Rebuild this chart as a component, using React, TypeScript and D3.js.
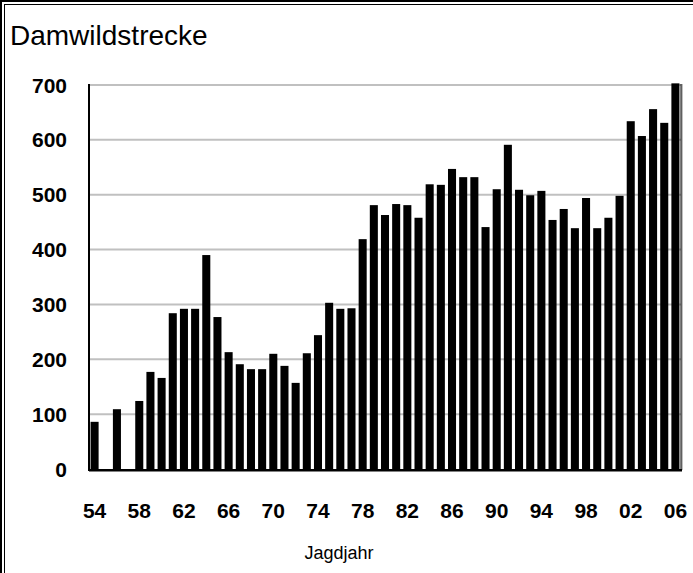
import React from 'react';
import * as d3 from 'd3';

const YEARS = [
  1954, 1955, 1956, 1957, 1958, 1959, 1960, 1961, 1962, 1963,
  1964, 1965, 1966, 1967, 1968, 1969, 1970, 1971, 1972, 1973,
  1974, 1975, 1976, 1977, 1978, 1979, 1980, 1981, 1982, 1983,
  1984, 1985, 1986, 1987, 1988, 1989, 1990, 1991, 1992, 1993,
  1994, 1995, 1996, 1997, 1998, 1999, 2000, 2001, 2002, 2003,
  2004, 2005, 2006,
];

const STRECKE = [
  86, 0, 109, 0, 124, 177, 166, 284, 292, 292,
  390, 277, 213, 191, 182, 182, 210, 188, 157, 211,
  244, 303, 292, 293, 419, 481, 463, 483, 481, 458,
  519, 518, 547, 532, 532, 441, 510, 591, 509, 499,
  507, 454, 474, 439, 494, 439, 458, 498, 634, 607,
  656, 631, 703,
];

const X_TICKS = [1954, 1958, 1962, 1966, 1970, 1974, 1978, 1982, 1986, 1990, 1994, 1998, 2002, 2006];
const Y_TICKS = [0, 100, 200, 300, 400, 500, 600, 700];

const TITLE = 'Damwildstrecke';
const X_TITLE = 'Jagdjahr';

const W = 693, H = 573;
const FONT = 'Arial, "Liberation Sans", sans-serif';

function Txt({ x, y, anchor = 'start', size, bold = false, children }: any) {
  return (
    <text x={x} y={y} textAnchor={anchor} fontFamily={FONT} fontSize={size}
      fontWeight={bold ? 700 : 400} fill="#000">
      {children}
    </text>
  );
}

export default function App() {
  const left = 89, right = 681, top = 85, bottom = 469;

  const x = d3.scaleBand<number>().domain(YEARS).range([left, right]).paddingInner(0.28).paddingOuter(0.14);
  const y = d3.scaleLinear().domain([0, 700]).range([bottom, top]);

  return (
    <svg width={W} height={H} viewBox={`0 0 ${W} ${H}`}
      style={{ position: 'absolute', left: 0, top: 0, display: 'block', background: '#fff' }}>
      {/* double frame, top and left only */}
      <line x1={0} x2={W} y1={1} y2={1} stroke="#000" strokeWidth={2} />
      <line x1={4} x2={W} y1={4.5} y2={4.5} stroke="#000" strokeWidth={1} />
      <line x1={1} x2={1} y1={0} y2={H} stroke="#000" strokeWidth={2} />
      <line x1={4.5} x2={4.5} y1={4} y2={H} stroke="#000" strokeWidth={1} />

      <Txt x={10} y={45} size={28}>{TITLE}</Txt>

      {/* gridlines */}
      {Y_TICKS.filter(t => t > 0).map(t => (
        <line key={t} x1={left} x2={right} y1={y(t)} y2={y(t)} stroke="#c0c0c0" strokeWidth={2} />
      ))}

      {/* bars */}
      {YEARS.map((yr, i) => STRECKE[i] > 0 && (
        <rect key={yr} x={x(yr)!} y={y(STRECKE[i])} width={x.bandwidth()} height={bottom - y(STRECKE[i])} fill="#000" />
      ))}

      {/* right edge with shadow */}
      <line x1={right + 1} x2={right + 1} y1={top - 1} y2={bottom + 1} stroke="#808080" strokeWidth={1} />
      <line x1={right} x2={right} y1={top - 1} y2={bottom} stroke="#000" strokeWidth={1} />

      {/* axes */}
      <line x1={left} x2={left} y1={top - 1} y2={bottom + 1} stroke="#000" strokeWidth={2} />
      <line x1={left} x2={right + 1} y1={bottom + 2.5} y2={bottom + 2.5} stroke="#808080" strokeWidth={1} />
      <line x1={left - 1} x2={right + 1} y1={bottom + 1} y2={bottom + 1} stroke="#000" strokeWidth={2} />

      {Y_TICKS.map(t => (
        <Txt key={t} x={67} y={y(t) + 7.5} anchor="end" size={21} bold>{t}</Txt>
      ))}

      {X_TICKS.map(t => (
        <Txt key={t} x={x(t)! + x.bandwidth() / 2} y={518} anchor="middle" size={21} bold>
          {String(t % 100).padStart(2, '0')}
        </Txt>
      ))}

      <Txt x={339} y={559} anchor="middle" size={18}>{X_TITLE}</Txt>
    </svg>
  );
}
